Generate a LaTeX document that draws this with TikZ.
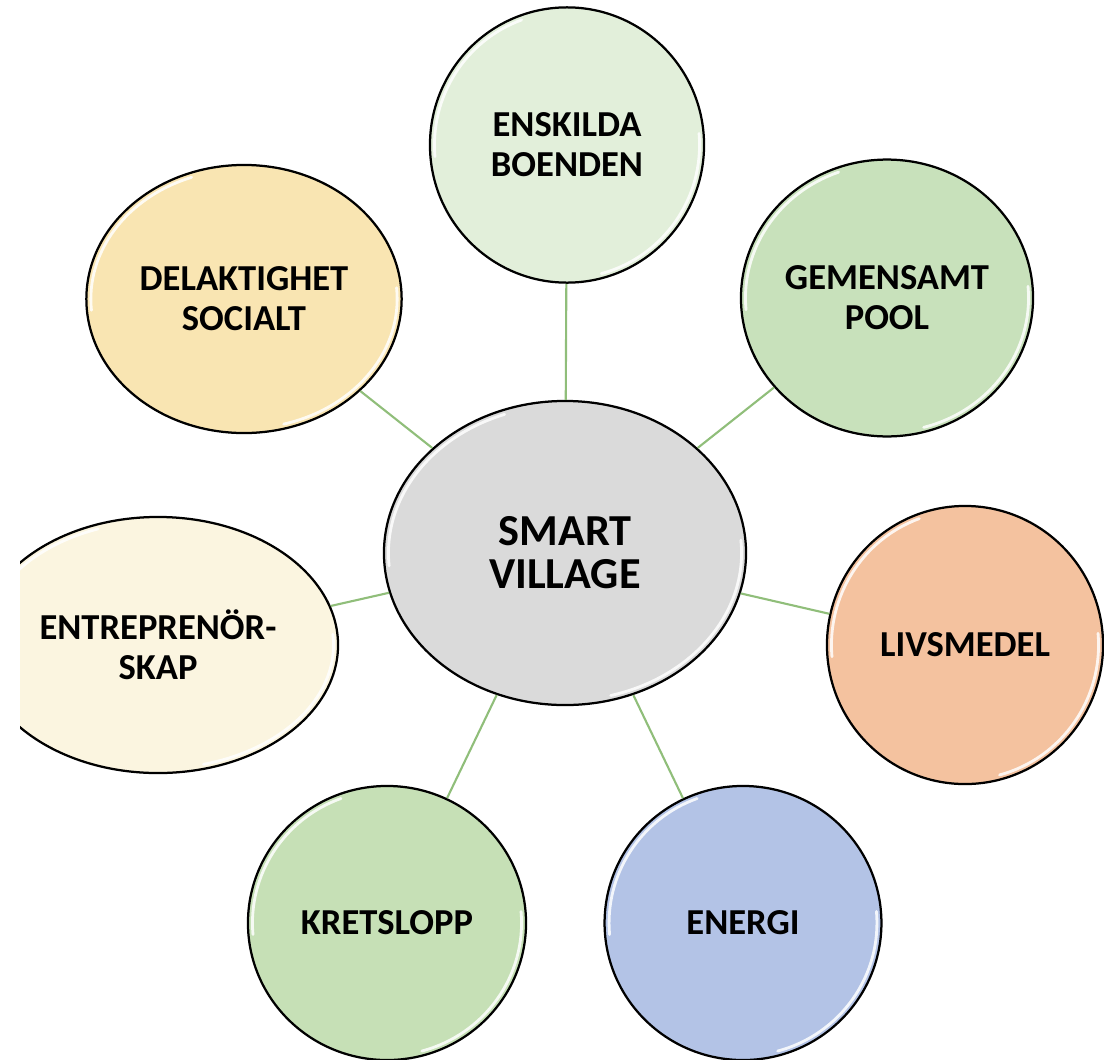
\documentclass[tikz,border=0pt]{standalone}
\usepackage{fontspec}
\setmainfont{Carlito}
\usetikzlibrary{shapes.geometric,calc}

\definecolor{hubgray}{HTML}{DADADA}
\definecolor{boendgreen}{HTML}{E2EFDA}
\definecolor{poolgreen}{HTML}{C8E1BB}
\definecolor{socialyellow}{HTML}{F9E5B2}
\definecolor{entrecream}{HTML}{FBF5E0}
\definecolor{livsorange}{HTML}{F4C29F}
\definecolor{energiblue}{HTML}{B3C3E6}
\definecolor{kretsgreen}{HTML}{C6E0B6}
\definecolor{linkgreen}{HTML}{90BE7A}

\begin{document}
\begin{tikzpicture}[x=0.025cm, y=-0.025cm]
	\tikzset{bubble/.style = {draw, ellipse, line width=1.6pt, inner sep=0pt,
		font=\bfseries\fontsize{26}{28.5}\selectfont, align=center},
		hub/.style = {bubble, font=\bfseries\fontsize{31.5}{30.6}\selectfont},
		link/.style = {draw=linkgreen, line width=1.5pt},
		gloss/.style = {white, opacity=.85, line width=2pt, line cap=round}}
	
	\useasboundingbox (0,0) rectangle (1104,1059);
	\clip (20,0) rectangle (1104,1059);
	
	\node[hub, fill=hubgray, minimum width=9.05cm, minimum height=7.6cm]
	(village) at (565,553) {SMART\\VILLAGE};
	\node[bubble, fill=boendgreen, minimum width=6.85cm, minimum height=6.88cm]
	(boenden) at (567,145) {ENSKILDA\\BOENDEN};
	\node[bubble, fill=poolgreen, minimum width=7.3cm, minimum height=6.92cm]
	(pool) at (887,298) {GEMENSAMT\\POOL};
	\node[bubble, fill=socialyellow, minimum width=7.88cm, minimum height=6.7cm]
	(social) at (244,299) {DELAKTIGHET\\SOCIALT};
	\node[bubble, fill=entrecream, minimum width=9cm, minimum height=6.4cm]
	(entre) at (158,645) {ENTREPRENÖR-\\SKAP};
	\node[bubble, fill=livsorange, minimum width=6.9cm, minimum height=6.95cm]
	(livsmedel) at (965,645) {LIVSMEDEL};
	\node[bubble, fill=energiblue, minimum width=6.92cm, minimum height=6.85cm]
	(energi) at (743,923) {ENERGI};
	\node[bubble, fill=kretsgreen, minimum width=6.95cm, minimum height=6.85cm]
	(kretslopp) at (387,923) {KRETSLOPP};
	
	% spokes from the hub
	\foreach \s in {boenden,pool,social,entre,livsmedel,energi,kretslopp}
		\draw[link] (village) -- (\s);
	
	% light edge on each bubble
	\foreach \b in {village,boenden,pool,social,entre,livsmedel,energi,kretslopp}
		\draw[gloss] let \p1 = ($(\b.east)-(\b.center)$),
			\p2 = ($(\b.north)-(\b.center)$), \n1 = {\x1-4pt}, \n2 = {\y2-4pt} in
			($(\b.center)+(110:\n1 and \n2)$)
			arc [start angle=110, end angle=185, x radius=\n1, y radius=\n2]
			($(\b.center)+(-75:\n1 and \n2)$)
			arc [start angle=-75, end angle=5, x radius=\n1, y radius=\n2];
\end{tikzpicture}
\end{document}
